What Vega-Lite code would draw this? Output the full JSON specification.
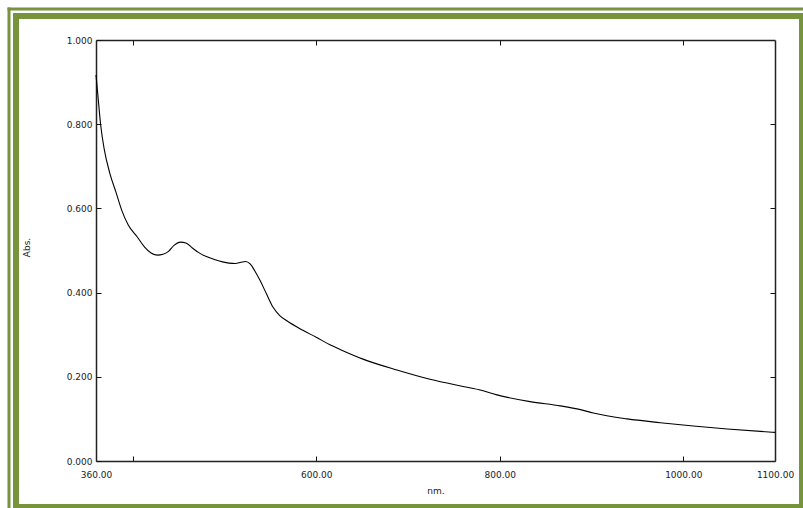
{
  "$schema": "https://vega.github.io/schema/vega-lite/v6.json",
  "width": 786,
  "height": 491,
  "autosize": {"type": "none"},
  "padding": {"left": 16, "top": 16, "right": 1, "bottom": 1},
  "background": "white",
  "config": {
    "view": {"stroke": "#77933C", "strokeWidth": 6, "fill": "white"},
    "axis": {
      "grid": false,
      "labelFont": "DejaVu Sans",
      "labelFontSize": 9,
      "labelColor": "#222222",
      "titleFont": "DejaVu Sans",
      "titleFontSize": 9,
      "titleFontWeight": "normal",
      "titleColor": "#222222",
      "domainColor": "#222222",
      "domainWidth": 1.5,
      "tickColor": "#111111",
      "tickWidth": 1,
      "labelFlush": false,
      "labelOverlap": false,
      "labelBound": false
    }
  },
  "data": {
    "values": [
      {"wl": 360, "abs": 0.917},
      {"wl": 362, "abs": 0.87},
      {"wl": 365, "abs": 0.8},
      {"wl": 369, "abs": 0.74},
      {"wl": 375, "abs": 0.684},
      {"wl": 382, "abs": 0.637},
      {"wl": 388, "abs": 0.596},
      {"wl": 395, "abs": 0.561},
      {"wl": 405, "abs": 0.532},
      {"wl": 413, "abs": 0.508},
      {"wl": 420, "abs": 0.494},
      {"wl": 427, "abs": 0.489},
      {"wl": 433, "abs": 0.491},
      {"wl": 439, "abs": 0.498},
      {"wl": 445, "abs": 0.512},
      {"wl": 452, "abs": 0.52},
      {"wl": 458, "abs": 0.518},
      {"wl": 465, "abs": 0.506},
      {"wl": 472, "abs": 0.495},
      {"wl": 481, "abs": 0.485},
      {"wl": 490, "abs": 0.478},
      {"wl": 498, "abs": 0.473},
      {"wl": 505, "abs": 0.47},
      {"wl": 512, "abs": 0.469},
      {"wl": 518, "abs": 0.472},
      {"wl": 523, "abs": 0.474},
      {"wl": 528, "abs": 0.468},
      {"wl": 533, "abs": 0.452},
      {"wl": 539, "abs": 0.428},
      {"wl": 546, "abs": 0.396},
      {"wl": 553, "abs": 0.365},
      {"wl": 560, "abs": 0.346},
      {"wl": 568, "abs": 0.333},
      {"wl": 585, "abs": 0.311},
      {"wl": 600, "abs": 0.294},
      {"wl": 615, "abs": 0.276},
      {"wl": 626, "abs": 0.265},
      {"wl": 651, "abs": 0.242},
      {"wl": 688, "abs": 0.216},
      {"wl": 724, "abs": 0.194},
      {"wl": 760, "abs": 0.177},
      {"wl": 780, "abs": 0.168},
      {"wl": 797, "abs": 0.157},
      {"wl": 833, "abs": 0.141},
      {"wl": 866, "abs": 0.131},
      {"wl": 888, "abs": 0.122},
      {"wl": 902, "abs": 0.114},
      {"wl": 939, "abs": 0.1},
      {"wl": 975, "abs": 0.091},
      {"wl": 1011, "abs": 0.083},
      {"wl": 1048, "abs": 0.076},
      {"wl": 1100, "abs": 0.068}
    ]
  },
  "resolve": {
    "scale": {"x": "independent", "y": "independent"},
    "axis": {"x": "independent", "y": "independent"}
  },
  "layer": [
    {
      "mark": {"type": "line", "color": "#000000", "strokeWidth": 1.1, "interpolate": "monotone"},
      "encoding": {
        "x": {
          "field": "wl",
          "type": "quantitative",
          "scale": {"domain": [360, 1100], "range": [80, 759], "nice": false, "zero": false},
          "axis": {
            "orient": "bottom",
            "offset": -46,
            "values": [360, 400, 600, 800, 1000, 1100],
            "format": ".2f",
            "labelExpr": "datum.value == 400 ? '' : datum.label",
            "tickSize": -5,
            "labelPadding": 14,
            "title": "nm.",
            "titleY": 29,
            "titleBaseline": "middle"
          }
        },
        "y": {
          "field": "abs",
          "type": "quantitative",
          "scale": {"domain": [0, 1], "range": [445, 24], "nice": false, "zero": false},
          "axis": {
            "orient": "left",
            "offset": -80,
            "values": [0, 0.2, 0.4, 0.6, 0.8, 1],
            "format": ".3f",
            "tickSize": -5,
            "labelPadding": 9,
            "title": "Abs.",
            "titleX": -69.5,
            "titleY": 231,
            "titleBaseline": "middle",
            "titleAlign": "center"
          }
        }
      }
    },
    {
      "mark": {"type": "line", "opacity": 0},
      "encoding": {
        "x": {
          "field": "wl",
          "type": "quantitative",
          "scale": {"domain": [360, 1100], "range": [80, 759], "nice": false, "zero": false},
          "axis": {
            "orient": "top",
            "offset": -24,
            "values": [400, 600, 800, 1000],
            "labels": false,
            "tickSize": -5,
            "title": null
          }
        },
        "y": {
          "field": "abs",
          "type": "quantitative",
          "scale": {"domain": [0, 1], "range": [445, 24], "nice": false, "zero": false},
          "axis": {
            "orient": "right",
            "offset": -27,
            "values": [0.2, 0.4, 0.6, 0.8],
            "labels": false,
            "tickSize": -5,
            "title": null
          }
        }
      }
    },
    {
      "mark": {"type": "line", "opacity": 0},
      "encoding": {
        "x": {
          "field": "wl",
          "type": "quantitative",
          "scale": {"domain": [360, 1100], "range": [-7.5, 800], "nice": false, "zero": false},
          "axis": {
            "orient": "top",
            "offset": 7.5,
            "labels": false,
            "ticks": false,
            "title": null,
            "domainColor": "#77933C",
            "domainWidth": 3,
            "domainCap": "square"
          }
        },
        "y": {
          "field": "abs",
          "type": "quantitative",
          "scale": {"domain": [0, 1], "range": [500, -7.5], "nice": false, "zero": false},
          "axis": {
            "orient": "left",
            "offset": 7.5,
            "labels": false,
            "ticks": false,
            "title": null,
            "domainColor": "#77933C",
            "domainWidth": 3,
            "domainCap": "square"
          }
        }
      }
    }
  ]
}
